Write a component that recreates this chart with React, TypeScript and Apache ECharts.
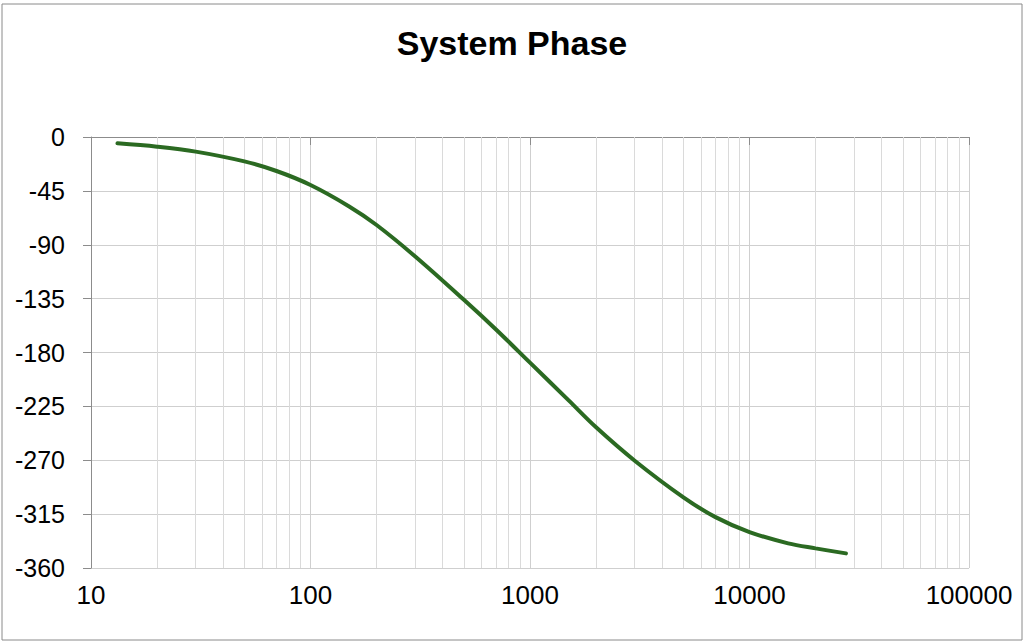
import React, { useEffect, useRef } from "react";
import * as echarts from "echarts";

const frequencies = [13.2, 20, 30, 50, 70, 100, 150, 200, 300, 500, 700, 1000, 1500, 2000, 3000, 5000, 7000, 10000, 15000, 20000, 27500];
const phases = [-5.3, -8.1, -12.2, -20.4, -28.4, -40.1, -58, -73.5, -99.8, -136, -160.8, -188.5, -220, -242.5, -270.4, -301, -317.5, -330, -339.4, -343.6, -347.8];
const minorGridValues = [
  20, 30, 40, 50, 60, 70, 80, 90,
  200, 300, 400, 500, 600, 700, 800, 900,
  2000, 3000, 4000, 5000, 6000, 7000, 8000, 9000,
  20000, 30000, 40000, 50000, 60000, 70000, 80000, 90000,
];
const titleText = "System Phase";

export default function App() {
  const ref = useRef<HTMLDivElement>(null);
  useEffect(() => {
    if (!ref.current) return;
    const chart = echarts.init(ref.current, null, { renderer: "svg" });
    const font = "'Liberation Sans', Arial, sans-serif";
    chart.setOption({
      animation: false,
      backgroundColor: "#ffffff",
      title: {
        text: titleText,
        left: "center",
        top: 21,
        textStyle: { fontSize: 34, fontWeight: "bold", color: "#000", fontFamily: font },
      },
      graphic: [
        {
          type: "rect",
          shape: { x: 2, y: 4, width: 1020, height: 636 },
          style: { fill: "none", stroke: "#8a8a8a", lineWidth: 1 },
          silent: true,
        },
      ],
      grid: { left: 91, right: 55, top: 137, bottom: 75 },
      xAxis: {
        type: "log",
        logBase: 10,
        min: 10,
        max: 100000,
        axisLine: { show: true, lineStyle: { color: "#8c8c8c", width: 1 } },
        axisTick: { show: true, length: 8, lineStyle: { color: "#8c8c8c" } },
        axisLabel: {
          fontSize: 26,
          color: "#000",
          fontFamily: font,
          margin: 14,
          formatter: (v: number) => String(Math.round(v)),
        },
        splitLine: { show: true, lineStyle: { color: "#cfcfcf", width: 1 } },
      },
      yAxis: {
        type: "value",
        min: -360,
        max: 0,
        interval: 45,
        axisLine: { show: true, lineStyle: { color: "#8c8c8c", width: 1 } },
        axisTick: { show: true, length: 8, lineStyle: { color: "#8c8c8c" } },
        axisLabel: { fontSize: 25, color: "#000", fontFamily: font, margin: 26 },
        splitLine: { show: true, lineStyle: { color: "#cfcfcf", width: 1 } },
      },
      series: [
        {
          type: "line",
          data: frequencies.map((f, i) => [f, phases[i]]),
          showSymbol: false,
          smooth: 0.35,
          lineStyle: { color: "#2b6a22", width: 4, cap: "round" },
          z: 5,
          markLine: {
            silent: true,
            symbol: ["none", "none"],
            label: { show: false },
            lineStyle: { type: "solid", color: "#dadada", width: 1 },
            data: minorGridValues.map((v) => ({ xAxis: v })),
            z: 1,
          },
        },
      ],
    });
    return () => chart.dispose();
  }, []);
  return (
    <div
      ref={ref}
      style={{ position: "absolute", left: 0, top: 0, width: 1024, height: 643 }}
    />
  );
}
